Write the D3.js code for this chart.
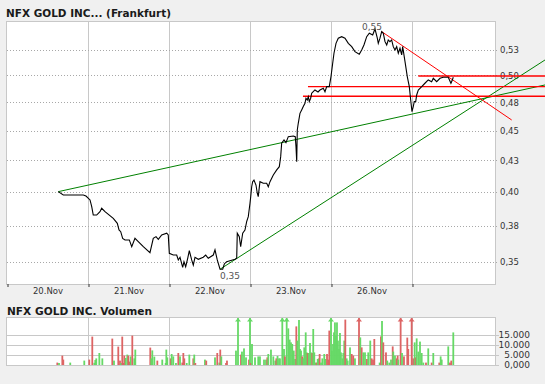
<!DOCTYPE html>
<html><head><meta charset="utf-8">
<script src="https://cdn.jsdelivr.net/npm/d3@7"></script>
<style>
html,body{margin:0;padding:0;background:#f0f0f0;}
svg{display:block;}
text{font-family:"DejaVu Sans",Verdana,sans-serif;}
</style></head><body>
<svg id="c" width="545" height="384"></svg>
<script>
const chartTitle = "NFX GOLD INC... (Frankfurt)";
const volumeTitle = "NFX GOLD INC. Volumen";
const dayLabels = ["20.Nov","21.Nov","22.Nov","23.Nov","26.Nov"];
const dayStarts = [0,1,2,3,4,5];
const priceTicks = [0.35,0.375,0.4,0.425,0.45,0.475,0.5,0.525];
const priceTickLabels = ["0,35","0,38","0,40","0,43","0,45","0,48","0,50","0,53"];
const volTicks = [0,5000,10000,15000];
const volTickLabels = ["0,000","5.000","10.000","15.000"];

const priceTimes = [0.633,0.695,0.778,0.942,0.975,1.025,1.046,1.065,1.107,1.148,1.169,1.210,1.312,1.362,1.383,1.404,1.428,1.457,1.510,1.540,1.580,1.621,1.683,1.765,1.806,1.840,1.868,1.910,1.972,1.991,2.004,2.053,2.095,2.115,2.136,2.169,2.185,2.206,2.231,2.251,2.280,2.300,2.321,2.362,2.423,2.453,2.485,2.547,2.568,2.596,2.630,2.663,2.683,2.712,2.753,2.815,2.836,2.843,2.868,2.885,2.910,2.938,2.959,2.979,3.000,3.009,3.021,3.033,3.049,3.074,3.090,3.102,3.123,3.164,3.206,3.226,3.247,3.288,3.330,3.362,3.379,3.391,3.420,3.444,3.473,3.535,3.559,3.568,3.577,3.584,3.596,3.617,3.638,3.658,3.679,3.691,3.707,3.720,3.732,3.749,3.762,3.781,3.802,3.840,3.864,3.905,3.926,3.947,3.979,4.000,4.021,4.037,4.062,4.090,4.132,4.173,4.214,4.256,4.296,4.349,4.379,4.407,4.441,4.473,4.515,4.543,4.572,4.584,4.605,4.626,4.646,4.667,4.688,4.707,4.728,4.749,4.769,4.790,4.811,4.831,4.852,4.873,4.885,4.914,4.942,4.967,4.984,5.000,5.016,5.028,5.046,5.058,5.078,5.120,5.160,5.201,5.243,5.263,5.305,5.346,5.386,5.448,5.481,5.498,5.510];
const priceValues = [0.4004,0.3979,0.3979,0.3979,0.3971,0.3941,0.3891,0.3829,0.3829,0.3854,0.3879,0.3854,0.3805,0.3769,0.3721,0.3709,0.3662,0.3651,0.3651,0.3604,0.3662,0.3639,0.3604,0.3563,0.3662,0.3674,0.3655,0.3686,0.3698,0.3686,0.3559,0.3547,0.3547,0.3514,0.3532,0.3465,0.3502,0.3469,0.3525,0.3577,0.3514,0.3480,0.3532,0.3518,0.3532,0.3547,0.3525,0.3547,0.3582,0.3514,0.3452,0.3452,0.3487,0.3502,0.3509,0.3518,0.3525,0.3698,0.3674,0.3604,0.3698,0.3721,0.3781,0.3817,0.3916,0.3966,0.4042,0.4081,0.4094,0.4055,0.3992,0.3966,0.4081,0.4069,0.4069,0.4042,0.4081,0.4134,0.4174,0.4200,0.4281,0.4392,0.4420,0.4397,0.4448,0.4454,0.4448,0.4364,0.4240,0.4505,0.4563,0.4651,0.4681,0.4711,0.4741,0.4787,0.4771,0.4801,0.4756,0.4787,0.4833,0.4847,0.4863,0.4845,0.4863,0.4879,0.4847,0.4894,0.4894,0.4989,0.5118,0.5217,0.5317,0.5369,0.5385,0.5369,0.5317,0.5283,0.5233,0.5207,0.5250,0.5300,0.5385,0.5420,0.5402,0.5465,0.5369,0.5317,0.5369,0.5437,0.5420,0.5334,0.5300,0.5351,0.5334,0.5351,0.5283,0.5250,0.5283,0.5217,0.5267,0.5200,0.5283,0.5134,0.4989,0.4894,0.4771,0.4666,0.4711,0.4756,0.4756,0.4817,0.4863,0.4894,0.4926,0.4957,0.4941,0.4973,0.4941,0.4973,0.4983,0.4983,0.4926,0.4957,0.4983];

// trend lines: [t0, p0, t1, p1]
const greenTrends = [[0.633,0.4004,6.642,0.4910],[2.630,0.3452,6.642,0.5150]];
const redTrends = [[4.626,0.5437,6.231,0.4592],[5.078,0.4995,6.642,0.4995],[3.716,0.4894,6.642,0.4894],[3.654,0.4805,6.642,0.4805]];

const volTimes = [0.621,0.642,0.683,0.695,0.781,0.954,1.016,1.053,1.078,1.090,1.102,1.140,1.177,1.300,1.321,1.374,1.395,1.407,1.423,1.436,1.448,1.465,1.485,1.498,1.510,1.527,1.547,1.572,1.584,1.769,1.781,1.794,1.819,1.856,1.917,1.959,1.967,1.979,2.021,2.033,2.053,2.086,2.115,2.136,2.164,2.177,2.189,2.219,2.251,2.300,2.312,2.325,2.444,2.460,2.568,2.596,2.621,2.633,2.646,2.704,2.716,2.827,2.852,2.889,2.901,2.926,2.951,2.988,3.000,3.012,3.025,3.062,3.102,3.123,3.173,3.198,3.214,3.226,3.259,3.288,3.312,3.325,3.340,3.358,3.370,3.399,3.420,3.432,3.453,3.473,3.490,3.506,3.522,3.540,3.556,3.572,3.584,3.605,3.617,3.630,3.646,3.658,3.670,3.688,3.700,3.712,3.725,3.741,3.753,3.769,3.781,3.794,3.811,3.823,3.836,3.848,3.860,3.877,3.893,3.917,3.935,3.951,3.967,3.979,4.000,4.012,4.025,4.037,4.049,4.062,4.074,4.086,4.099,4.111,4.123,4.140,4.152,4.164,4.177,4.194,4.206,4.235,4.256,4.275,4.296,4.346,4.362,4.379,4.399,4.420,4.444,4.460,4.485,4.502,4.519,4.535,4.601,4.617,4.630,4.646,4.679,4.695,4.720,4.741,4.762,4.769,4.790,4.811,4.823,4.831,4.860,4.877,4.901,4.942,4.954,4.996,5.016,5.033,5.046,5.058,5.078,5.099,5.120,5.140,5.173,5.201,5.243,5.263,5.337,5.354,5.367,5.448,5.469,5.485,5.510];
const volValues = [1200,1000,4700,2700,1200,2200,2700,14200,1100,2500,3300,6000,3300,13200,2200,9200,2200,1000,14200,1000,4700,3500,5200,4700,1700,4300,14700,3300,7700,8700,3300,7300,4200,2200,2700,1000,7700,3800,3300,5500,4300,1000,6000,4300,1200,6000,3300,1000,5200,3300,5200,1000,2700,2200,3800,6000,1200,7700,4300,1000,2200,7200,30000,5200,6700,8300,3800,2700,30000,1000,10500,3800,4300,4300,2700,2700,3800,5500,7700,4300,2200,3300,4500,3300,3300,30000,8000,4300,30000,18300,12700,11300,10500,7200,3000,19300,12200,22500,8000,7200,4300,3300,8800,16300,6300,6000,6000,11000,6300,6000,18000,6300,1200,1200,3000,3300,5500,1200,3300,5500,3000,5500,2700,17200,30000,7200,10500,16300,21300,14700,21300,12200,8000,16000,6300,3300,6000,12200,22700,3300,2200,8800,5500,4700,3300,30000,13800,8800,6300,6300,3000,6300,12200,3300,2700,13000,1200,14300,22000,11300,6300,2200,1200,2700,9300,6700,4700,3300,4700,2700,30000,6000,4300,13700,8000,30000,3300,11300,3800,13300,6700,11700,6000,1200,1200,8300,1200,6000,1200,4300,2700,9300,1200,2200,16300];
// 1 = price up (green), 0 = price down (red)
const volUp = [
  0,1,0,0,1,1,0,0,1,1,
  1,1,1,0,1,0,0,1,0,0,
  0,1,1,0,0,1,0,1,1,0,
  1,1,1,0,1,1,1,1,0,1,
  1,1,0,1,0,0,0,1,1,0,
  1,0,1,0,1,0,1,0,1,0,
  0,1,1,0,1,1,1,0,1,0,
  1,1,1,1,1,1,0,1,1,1,
  1,0,1,1,1,1,1,0,1,1,
  1,1,1,1,1,0,1,1,1,1,
  0,1,1,1,1,0,1,1,1,0,
  1,1,1,0,1,1,0,1,1,1,
  1,0,0,0,1,1,1,1,1,1,
  1,1,1,1,1,1,1,1,0,1,
  1,1,0,0,1,0,1,0,1,1,
  0,1,1,0,0,0,1,0,1,0,
  0,1,1,1,0,1,1,0,0,1,
  0,1,0,0,0,0,0,1,0,1,
  1,1,1,1,0,1,0,1,0,1,
  1,1,0,0,1];
</script>
<script>
const svg = d3.select("#c");
const L = 7, R = 495, T = 22, B = 284;
const VT = 318, VB = 365;
const x = d3.scaleLinear().domain([0, 6.025]).range([L, R]);
const y = d3.scaleLog().domain([0.3356, 0.5538]).range([B, T]);
const yv = d3.scaleLinear().domain([0, 15000]).range([VB, VB - 30]);
const vMax = yv.invert(VT);

// title
svg.append("text").attr("x", 6).attr("y", 16.5).attr("font-size", "10.5px").attr("font-weight", "bold").attr("fill", "#1a1a1a")
  .attr("textLength", 165).attr("lengthAdjust", "spacingAndGlyphs").text(chartTitle);

// main plot bg
svg.append("rect").attr("x", L - 0.5).attr("y", T - 0.5).attr("width", R - L + 1).attr("height", B - T + 1).attr("fill", "#fff").attr("stroke", "#c8c8c8");

// vertical grid
svg.append("g").selectAll("line").data(dayStarts.slice(1)).join("line")
  .attr("x1", d => Math.round(x(d)) + 0.5).attr("x2", d => Math.round(x(d)) + 0.5)
  .attr("y1", T).attr("y2", B).attr("stroke", "#c8c8c8");
// horizontal dotted grid
svg.append("g").selectAll("line").data(priceTicks).join("line")
  .attr("x1", L).attr("x2", R + 4)
  .attr("y1", d => Math.round(y(d)) + 0.5).attr("y2", d => Math.round(y(d)) + 0.5)
  .attr("stroke", "#a8a8a8").attr("stroke-dasharray", "1,2");

// x axis ticks and labels
const xTicks = svg.append("g").attr("transform", `translate(0,${B})`)
  .call(d3.axisBottom(x).tickValues(dayStarts).tickSize(3).tickFormat(""));
xTicks.select(".domain").remove();
xTicks.selectAll("line").attr("stroke", "#333").attr("transform", "translate(0.5,0)");
const xLab = svg.append("g").attr("transform", `translate(0,${B})`)
  .call(d3.axisBottom(x).tickValues(dayLabels.map((d, i) => i + 0.5)).tickSize(0).tickPadding(4).tickFormat((d, i) => dayLabels[i]));
xLab.select(".domain").remove();
xLab.selectAll("text").attr("font-family", "DejaVu Sans").attr("font-size", "8.5px").attr("fill", "#333");

// y axis right
const yAx = svg.append("g").attr("transform", `translate(${R},0)`)
  .call(d3.axisRight(y).tickValues(priceTicks).tickSize(0).tickPadding(5).tickFormat((d, i) => priceTickLabels[i]));
yAx.select(".domain").remove();
yAx.selectAll("text").attr("font-family", "DejaVu Sans").attr("font-size", "8.5px").attr("fill", "#333");

// trend lines
const tl = svg.append("g");
tl.selectAll("line.g").data(greenTrends).join("line").attr("class", "g")
  .attr("x1", d => x(d[0])).attr("y1", d => y(d[1])).attr("x2", d => x(d[2])).attr("y2", d => y(d[3]))
  .attr("stroke", "#008000").attr("stroke-width", 1);
tl.selectAll("line.r").data(redTrends).join("line").attr("class", "r")
  .attr("x1", d => x(d[0])).attr("y1", d => y(d[1])).attr("x2", d => x(d[2])).attr("y2", d => y(d[3]))
  .attr("stroke", "#ff0000").attr("stroke-width", (d, i) => i === 0 ? 1 : 1.4);

// price line
const pts = priceTimes.map((t, i) => [t, priceValues[i]]);
svg.append("path").datum(pts)
  .attr("d", d3.line().x(d => x(d[0])).y(d => y(d[1])))
  .attr("fill", "none").attr("stroke", "#000").attr("stroke-width", 1.1);

// extreme labels
const iMax = d3.maxIndex(priceValues), iMin = d3.minIndex(priceValues);
const fmt = v => d3.format(".2f")(v).replace(".", ",");
svg.append("text").attr("x", x(priceTimes[iMax]) - 3).attr("y", y(priceValues[iMax]) + 1)
  .attr("text-anchor", "middle").attr("font-size", "9px").attr("fill", "#555").text(fmt(priceValues[iMax]));
svg.append("text").attr("x", x(priceTimes[iMin]) + 10).attr("y", y(priceValues[iMin]) + 10)
  .attr("text-anchor", "middle").attr("font-size", "9px").attr("fill", "#555").text(fmt(priceValues[iMin]));

// volume panel
svg.append("text").attr("x", 7).attr("y", 314.5).attr("font-size", "10.5px").attr("font-weight", "bold").attr("fill", "#1a1a1a")
  .attr("textLength", 145).attr("lengthAdjust", "spacingAndGlyphs").text(volumeTitle);
svg.append("rect").attr("x", L - 0.5).attr("y", VT - 0.5).attr("width", R - L + 1).attr("height", VB - VT + 1).attr("fill", "#fff").attr("stroke", "#c8c8c8");
svg.append("g").selectAll("line").data(dayStarts.slice(1)).join("line")
  .attr("x1", d => Math.round(x(d)) + 0.5).attr("x2", d => Math.round(x(d)) + 0.5)
  .attr("y1", VT).attr("y2", VB).attr("stroke", "#c8c8c8");
svg.append("g").selectAll("line").data(volTicks).join("line")
  .attr("x1", L).attr("x2", R + 4)
  .attr("y1", d => Math.round(yv(d)) + 0.5).attr("y2", d => Math.round(yv(d)) + 0.5)
  .attr("stroke", "#c8c8c8");
const vAx = svg.append("g").attr("transform", `translate(530,0)`)
  .call(d3.axisLeft(yv).tickValues(volTicks).tickSize(0).tickPadding(0).tickFormat((d, i) => volTickLabels[i]));
vAx.select(".domain").remove();
vAx.selectAll("text").attr("font-family", "DejaVu Sans").attr("font-size", "9px").attr("fill", "#333");

const vols = volTimes.map((t, i) => ({t, v: volValues[i], up: volUp[i] === 1}));
const green = "#66d966", red = "#dd6464";
svg.append("g").selectAll("rect").data(vols).join("rect")
  .attr("x", d => x(d.t) - 0.9).attr("width", 1.8)
  .attr("y", d => yv(Math.min(d.v, vMax))).attr("height", d => VB - yv(Math.min(d.v, vMax)))
  .attr("fill", d => d.up ? green : red);
svg.append("g").selectAll("path").data(vols.filter(d => d.v > vMax)).join("path")
  .attr("d", d => { const cx = x(d.t); return `M${cx - 3},${VT + 3.5}L${cx},${VT}L${cx + 3},${VT + 3.5}Z`; })
  .attr("fill", d => d.up ? green : red);
</script>
</body></html>
